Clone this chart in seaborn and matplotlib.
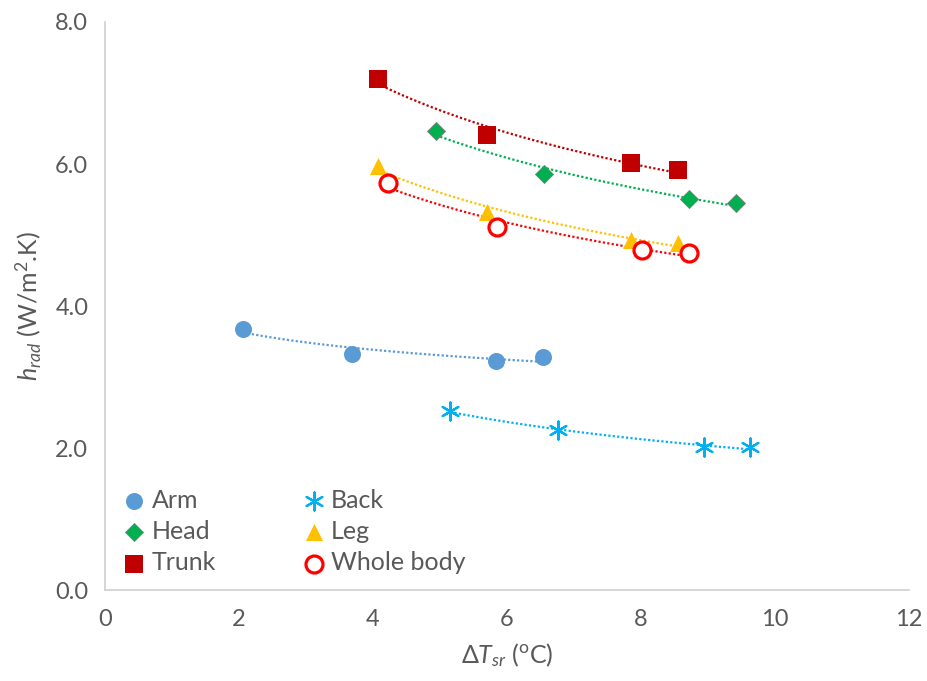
import numpy as np
import pandas as pd
import seaborn as sns
import matplotlib.pyplot as plt

# values
arm_x = [2.06, 3.69, 5.84, 6.54]
arm_y = [3.68, 3.32, 3.23, 3.28]
back_x = [5.15, 6.76, 8.94, 9.63]
back_y = [2.52, 2.25, 2.01, 2.01]
head_x = [4.94, 6.55, 8.72, 9.42]
head_y = [6.46, 5.86, 5.51, 5.45]
leg_x = [4.07, 5.70, 7.85, 8.55]
leg_y = [5.97, 5.32, 4.93, 4.89]
trunk_x = [4.07, 5.70, 7.85, 8.55]
trunk_y = [7.20, 6.41, 6.01, 5.92]
whole_x = [4.22, 5.85, 8.01, 8.72]
whole_y = [5.73, 5.11, 4.79, 4.75]

series = [
    ("Arm", arm_x, arm_y, "#5B9BD5", "o"),
    ("Head", head_x, head_y, "#00B050", "D"),
    ("Trunk", trunk_x, trunk_y, "#C00000", "s"),
    ("Back", back_x, back_y, "#00B0F0", (6, 2, 0)),
    ("Leg", leg_x, leg_y, "#FFC000", "^"),
    ("Whole body", whole_x, whole_y, "#FF0000", "o"),
]

sns.set_style("white")
plt.rcParams['font.family'] = ['Lato', 'DejaVu Sans']
plt.rcParams['mathtext.fontset'] = 'custom'
plt.rcParams['mathtext.rm'] = 'Lato'
plt.rcParams['mathtext.it'] = 'Lato:italic'

fig = plt.figure(figsize=(9.27, 6.81), dpi=100)
ax = fig.add_axes([0.1133, 0.1336, 0.8673, 0.8341])

sizes = {"o": 150, "D": 85, "s": 150, "^": 150}
for name, xs, ys, col, mk in series:
    df = pd.DataFrame({"x": xs, "y": ys})
    # power trendline (Excel style) fitted in log space
    b, a = np.polyfit(np.log(xs), np.log(ys), 1)
    xt = np.linspace(min(xs), max(xs), 100)
    trend = pd.DataFrame({"x": xt, "y": np.exp(a) * xt ** b})
    sns.lineplot(data=trend, x="x", y="y", ax=ax, color=col, lw=1.6,
                 linestyle=(0, (1, 1)), legend=False)
    if name == "Whole body":
        sns.scatterplot(data=df, x="x", y="y", ax=ax, marker="o", s=150,
                        facecolor="white", edgecolor=col, linewidth=2.3,
                        label=name, zorder=3)
    elif name == "Back":
        sns.scatterplot(data=df, x="x", y="y", ax=ax, marker=mk, s=170,
                        color=col, edgecolor=col, linewidth=1.6, label=name, zorder=3)
    else:
        sns.scatterplot(data=df, x="x", y="y", ax=ax, marker=mk, s=sizes[mk],
                        color=col, edgecolor=col if mk != "D" else "#7F7F7F",
                        linewidth=0.6 if mk == "D" else 0, label=name, zorder=3)

ax.set_xlim(0, 12)
ax.set_ylim(0, 8)
ax.set_xticks(range(0, 13, 2))
ax.set_yticks(np.arange(0, 8.1, 2))
ax.set_yticklabels([f"{v:.1f}" for v in np.arange(0, 8.1, 2)])

for side in ["top", "right"]:
    ax.spines[side].set_visible(False)
for side in ["left", "bottom"]:
    ax.spines[side].set_color("#D0D0D0")
    ax.spines[side].set_linewidth(1.2)
ax.tick_params(axis="y", direction="out", length=6, color="#D0D0D0",
               labelsize=17, labelcolor="#595959", pad=6)
ax.tick_params(axis="x", direction="inout", length=10, color="#D0D0D0",
               labelsize=17, labelcolor="#595959", pad=9)

ax.set_xlabel(r"$\mathit{\Delta T_{sr}}$ ($^{\mathrm{o}}$C)", fontsize=18,
              color="#595959", labelpad=8)
ax.set_ylabel(r"$\mathit{h_{rad}}$ (W/m$^{2}$.K)", fontsize=18,
              color="#595959", labelpad=8)

handles, labels = ax.get_legend_handles_labels()
ax.legend(handles, labels, ncol=2, loc="lower left", frameon=False,
          fontsize=18, labelcolor="#595959", bbox_to_anchor=(-0.012, -0.005),
          columnspacing=3.1, handletextpad=-0.1, labelspacing=0.33,
          borderaxespad=0.35, handlelength=1.6)

fig.savefig("out.png", dpi=100)
